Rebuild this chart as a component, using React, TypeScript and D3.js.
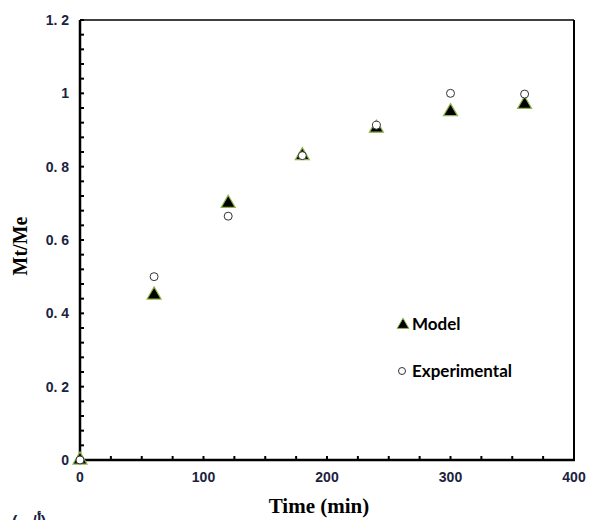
import React from 'react'
import { scaleLinear, range, symbol, symbolTriangle } from 'd3'

// data
const times = [0, 60, 120, 180, 240, 300, 360]
const model = [0, 0.45, 0.7, 0.83, 0.905, 0.95, 0.97]
const experimental = [0, 0.5, 0.665, 0.83, 0.913, 1.0, 0.998]
const xTickLabels = ['0', '100', '200', '300', '400']
const yTickLabels = ['0', '0. 2', '0. 4', '0. 6', '0. 8', '1', '1. 2']

const width = 590
const height = 520
const left = 80
const right = 574
const top = 20
const bottom = 460

export default function App() {
	const x = scaleLinear().domain([0, 400]).range([left, right])
	const y = scaleLinear().domain([0, 1.2]).range([bottom, top])

	const tri = symbol().type(symbolTriangle).size(85)()
	const labelColor = '#1c2340'
	const tickFont = 'Liberation Sans, Arial, sans-serif'
	const legendFont = 'Lato, Liberation Sans, sans-serif'

	const xMinor = range(0, 401, 25)
	const yMinor = range(0, 31).map((i) => i * 0.04)

	return (
		<svg width={width} height={height} style={{ position: 'absolute', left: 0, top: 0 }}>
			<rect width={width} height={height} fill="#fff" />

			{/* ticks, inward */}
			{xMinor.map((t) => (
				<line key={'xt' + t} x1={x(t)} x2={x(t)} y1={bottom} y2={bottom - 4} stroke="#000" strokeWidth={2} />
			))}
			{yMinor.map((t, i) => (
				<line key={'yt' + i} x1={left} x2={left + 4} y1={y(t)} y2={y(t)} stroke="#000" strokeWidth={2} />
			))}

			{/* frame */}
			<line x1={left} x2={right} y1={top} y2={top} stroke="#000" strokeWidth={1.5} />
			<line x1={right} x2={right} y1={top} y2={bottom} stroke="#000" strokeWidth={2} />
			<line x1={left} x2={left} y1={top} y2={bottom + 1} stroke="#000" strokeWidth={2.5} />
			<line x1={left - 1} x2={right + 1} y1={bottom} y2={bottom} stroke="#000" strokeWidth={2.5} />

			{/* tick labels */}
			{xTickLabels.map((l, i) => (
				<text key={'xl' + l} x={x(i * 100)} y={bottom + 22} textAnchor="middle"
					fontFamily={tickFont} fontWeight="bold" fontSize={14} fill={labelColor}>
					{l}
				</text>
			))}
			{yTickLabels.map((l, i) => (
				<text key={'yl' + l} x={left - 11} y={y(i * 0.2) + 5} textAnchor="end"
					fontFamily={tickFont} fontWeight="bold" fontSize={14} fill={labelColor}>
					{l}
				</text>
			))}

			{/* axis titles */}
			<text x={319} y={513} textAnchor="middle" fontFamily="Liberation Serif, Times New Roman, serif"
				fontWeight="bold" fontSize={21} fill="#000">
				Time (min)
			</text>
			<text transform="translate(27, 246) rotate(-90)" textAnchor="middle"
				fontFamily="Liberation Serif, Times New Roman, serif" fontWeight="bold" fontSize={20} fill="#000">
				Mt/Me
			</text>
			<text x={12} y={527} fontFamily="Liberation Sans, Arial, sans-serif" fontWeight="bold"
				fontSize={16} fill={labelColor}>
				(أ/ب)
			</text>

			{/* model triangles */}
			{times.map((t, i) => (
				<path key={'m' + t} d={tri} transform={`translate(${x(t)}, ${y(model[i])})`}
					fill="#000" stroke="#8fb44a" strokeWidth={1.2} />
			))}
			{/* experimental circles */}
			{times.map((t, i) => (
				<circle key={'e' + t} cx={x(t)} cy={y(experimental[i])} r={4}
					fill="#fff" stroke="#333" strokeWidth={1} />
			))}

			{/* legend */}
			<path d={symbol().type(symbolTriangle).size(60)()} transform="translate(403, 325)"
				fill="#000" stroke="#8fb44a" strokeWidth={1} />
			<text x={412} y={330} fontFamily={legendFont} fontWeight="bold" fontSize={17} fill="#000">
				Model
			</text>
			<circle cx={402} cy={371} r={3.5} fill="#fff" stroke="#333" strokeWidth={1} />
			<text x={412} y={377} fontFamily={legendFont} fontWeight="bold" fontSize={17} fill="#000">
				Experimental
			</text>
		</svg>
	)
}
